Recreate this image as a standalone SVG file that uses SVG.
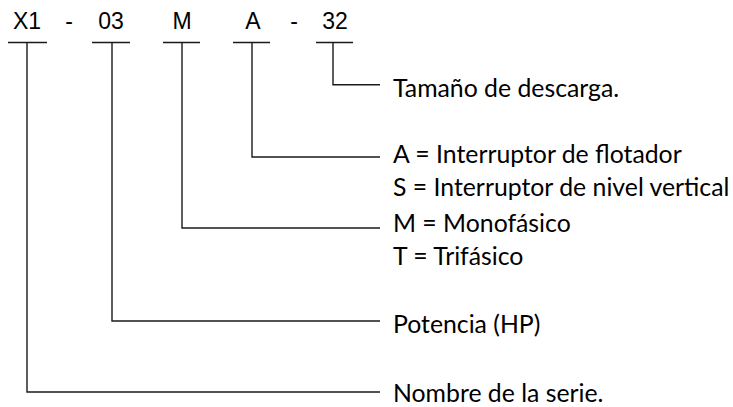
<svg xmlns="http://www.w3.org/2000/svg" width="733" height="407" viewBox="0 0 733 407">
<style>
.code{font-family:"Liberation Sans",Arial,sans-serif;font-size:23px;fill:#000;text-anchor:middle}
.lbl{font-family:Lato,"Open Sans",sans-serif;font-size:24.8px;fill:#000}
.ln{fill:none;stroke:#1a1a1a;stroke-width:1.4}
</style>
<rect width="733" height="407" fill="#fff"/>
<g id="code">
<text class="code" x="27" y="29">X1</text>
<text class="code" x="69" y="29">-</text>
<text class="code" x="111" y="29">03</text>
<text class="code" x="182" y="29">M</text>
<text class="code" x="253" y="29">A</text>
<text class="code" x="294" y="29">-</text>
<text class="code" x="335" y="29">32</text>
</g>
<g id="connectors">
<path class="ln" d="M8 42.5H47M92 42.5H130M163 42.5H200M233 42.5H270M316 42.5H353"/>
<path class="ln" d="M333 42.5V84.7H380"/>
<path class="ln" d="M252 42.5V157H380"/>
<path class="ln" d="M182 42.5V228H380"/>
<path class="ln" d="M112 42.5V321H380"/>
<path class="ln" d="M27 42.5V392H380"/>
</g>
<g id="n-descarga"><text class="lbl" x="393" y="97">Tamaño de descarga.</text></g>
<g id="n-interruptor">
<text class="lbl" x="393" y="163">A = Interruptor de flotador</text>
<text class="lbl" x="393" y="196">S = Interruptor de nivel vertical</text>
</g>
<g id="n-fase">
<text class="lbl" x="393" y="232">M = Monofásico</text>
<text class="lbl" x="393" y="265">T = Trifásico</text>
</g>
<g id="n-potencia"><text class="lbl" x="393" y="333">Potencia (HP)</text></g>
<g id="n-serie"><text class="lbl" x="393" y="402">Nombre de la serie.</text></g>
</svg>
